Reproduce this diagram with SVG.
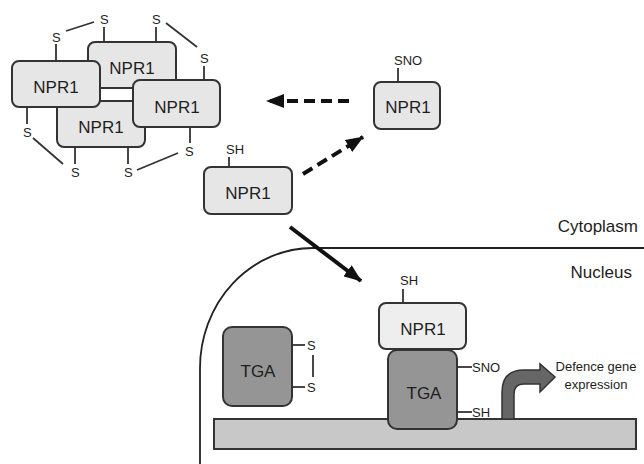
<svg xmlns="http://www.w3.org/2000/svg" width="644" height="464" viewBox="0 0 644 464">
<defs>
<style>
.box{fill:#e6e6e6;stroke:#333;stroke-width:2}
.boxl{fill:#eeeeee;stroke:#333;stroke-width:2}
.tga{fill:#959595;stroke:#333;stroke-width:2}
.lbl{font-family:"Liberation Sans",Arial,sans-serif;font-size:17px;fill:#1e1e1e;text-anchor:middle}
.s{font-family:"Liberation Sans",Arial,sans-serif;font-size:13px;fill:#1e1e1e}
.sm{font-family:"Liberation Sans",Arial,sans-serif;font-size:13px;fill:#1e1e1e;text-anchor:middle}
.stk{stroke:#333;stroke-width:1.8;fill:none}
.arr{stroke:#111;stroke-width:4;fill:none}
.dash{stroke-dasharray:11 6}
</style>
<marker id="head" markerUnits="userSpaceOnUse" markerWidth="18" markerHeight="14" viewBox="0 0 18 14" refX="17" refY="7" orient="auto">
<path d="M0,0 L18,7 L0,14 Z" fill="#111"/>
</marker>
</defs>
<rect width="644" height="464" fill="#fff"/>

<g id="cell-boundary">
<path d="M644,248 L313,248" fill="none" stroke="#222" stroke-width="2.2"/>
<path d="M313,248 A113,120 0 0 0 200,368 L200,464" fill="none" stroke="#222" stroke-width="1.8"/>
<text x="638" y="232" font-family="Liberation Sans,Arial,sans-serif" font-size="17" fill="#1e1e1e" text-anchor="end">Cytoplasm</text>
<text x="632" y="278" font-family="Liberation Sans,Arial,sans-serif" font-size="17" fill="#1e1e1e" text-anchor="end">Nucleus</text>
</g>

<g id="oligomer">
<g class="stk">
<line x1="56" y1="44" x2="56" y2="61"/>
<line x1="104" y1="27" x2="104" y2="42"/>
<line x1="156" y1="27" x2="156" y2="42"/>
<line x1="204" y1="66" x2="204" y2="80"/>
<line x1="27" y1="107" x2="27" y2="124"/>
<line x1="75" y1="147" x2="75" y2="164"/>
<line x1="128" y1="147" x2="128" y2="164"/>
<line x1="190" y1="127" x2="190" y2="143"/>
<line x1="66" y1="31" x2="94" y2="22"/>
<line x1="166" y1="23" x2="197" y2="47"/>
<line x1="33" y1="138" x2="63" y2="164"/>
<line x1="137" y1="170" x2="178" y2="153"/>
</g>
<rect class="box" x="88" y="42" width="88" height="46" rx="7"/>
<rect class="box" x="57" y="101" width="88" height="46" rx="7"/>
<rect class="box" x="12" y="61" width="88" height="46" rx="7"/>
<rect class="box" x="133" y="80" width="87" height="47" rx="7"/>
<text class="lbl" x="132" y="74">NPR1</text>
<text class="lbl" x="101" y="133">NPR1</text>
<text class="lbl" x="56" y="93">NPR1</text>
<text class="lbl" x="177" y="113">NPR1</text>
<text class="s" x="52" y="42">S</text>
<text class="s" x="100" y="24">S</text>
<text class="s" x="152" y="24">S</text>
<text class="s" x="200" y="63">S</text>
<text class="s" x="23" y="137">S</text>
<text class="s" x="71" y="177">S</text>
<text class="s" x="124" y="177">S</text>
<text class="s" x="185" y="156">S</text>
</g>

<g id="npr1-sno">
<line class="stk" x1="398" y1="68" x2="398" y2="82"/>
<text class="s" x="394" y="65">SNO</text>
<rect class="box" x="374" y="82" width="66" height="47" rx="7"/>
<text class="lbl" x="408" y="113">NPR1</text>
</g>

<g id="npr1-sh">
<line class="stk" x1="229" y1="157" x2="229" y2="167"/>
<text class="s" x="226" y="154">SH</text>
<rect class="box" x="204" y="167" width="88" height="47" rx="7"/>
<text class="lbl" x="248" y="199">NPR1</text>
</g>

<g id="connectors">
<line class="arr dash" x1="349" y1="101" x2="267" y2="101" marker-end="url(#head)"/>
<line class="arr dash" x1="303" y1="174" x2="363" y2="137" marker-end="url(#head)"/>
<line class="arr" x1="290" y1="227" x2="361" y2="281" marker-end="url(#head)"/>
</g>

<g id="dna">
<rect x="214" y="419" width="422" height="30" fill="#c8c8c8" stroke="#333" stroke-width="2"/>
</g>

<g id="tga-oxidised">
<rect class="tga" x="223" y="327" width="69" height="79" rx="9"/>
<text class="lbl" x="258" y="377">TGA</text>
<g class="stk">
<line x1="292" y1="345" x2="305" y2="345"/>
<line x1="292" y1="387" x2="305" y2="387"/>
<line x1="313" y1="355" x2="313" y2="377"/>
</g>
<text class="s" x="307" y="350">S</text>
<text class="s" x="307" y="392">S</text>
</g>

<g id="npr1-nucleus">
<line class="stk" x1="403" y1="289" x2="403" y2="303"/>
<text class="s" x="400" y="285">SH</text>
<rect class="boxl" x="379" y="303" width="87" height="46" rx="7"/>
<text class="lbl" x="423" y="335">NPR1</text>
</g>

<g id="tga-bound">
<rect class="tga" x="388" y="350" width="69" height="79" rx="9"/>
<text class="lbl" x="424" y="399">TGA</text>
<g class="stk">
<line x1="457" y1="367" x2="472" y2="367"/>
<line x1="457" y1="412" x2="472" y2="412"/>
</g>
<text class="s" x="472" y="372">SNO</text>
<text class="s" x="472" y="417">SH</text>
</g>

<g id="gene-expression">
<path d="M502,419 L502,392 Q502,370 524,370 L540,370 L540,364 L555,377 L540,392 L540,384 L524,384 Q514,384 514,394 L514,419 Z" fill="#666" stroke="#333" stroke-width="1.5"/>
<text class="sm" x="596" y="371">Defence gene</text>
<text class="sm" x="596" y="389">expression</text>
</g>
</svg>
